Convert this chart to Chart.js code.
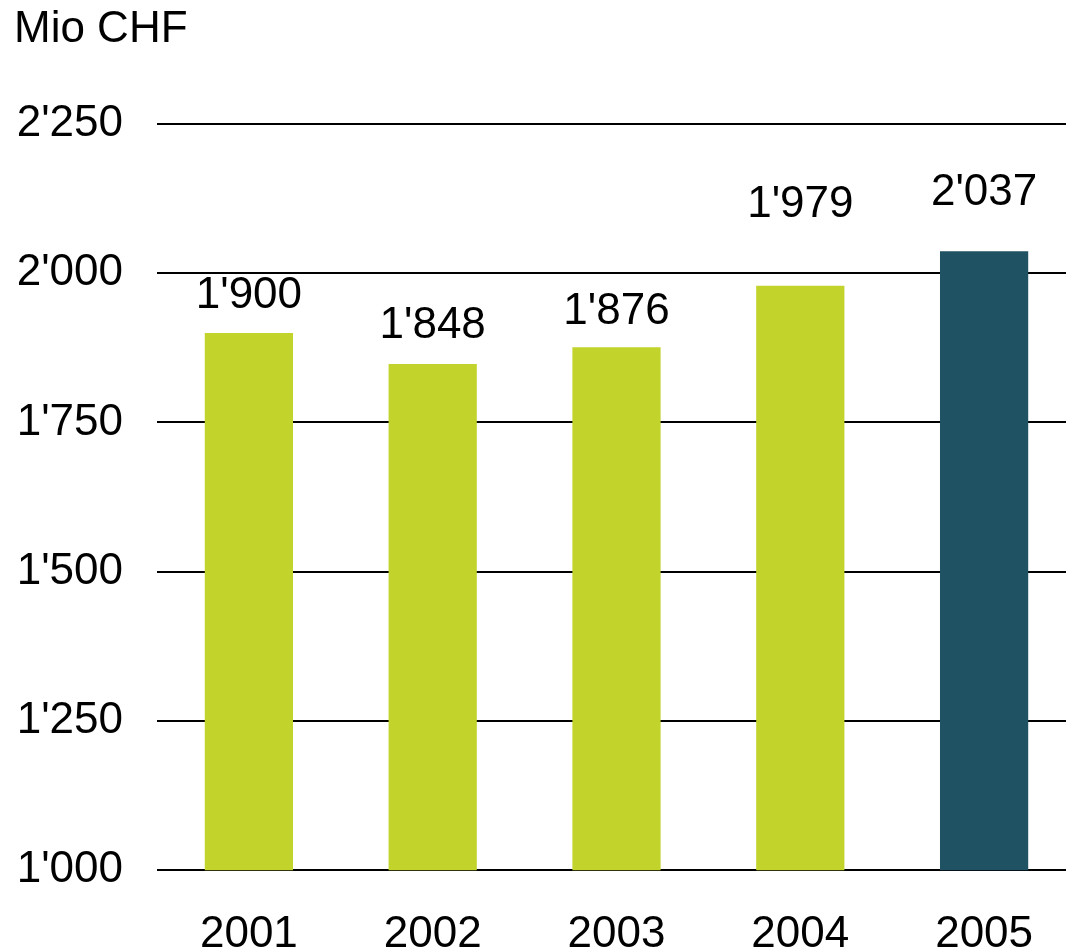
<!DOCTYPE html>
<html>
<head>
<meta charset="utf-8">
<script src="https://cdn.jsdelivr.net/npm/chart.js@4.4.1/dist/chart.umd.min.js"></script>
<style>
  html, body { margin: 0; padding: 0; background: #fff; overflow: hidden; }
  #wrap { position: relative; width: 1076px; height: 951px; }
</style>
</head>
<body>
<div id="wrap"><canvas id="chart"></canvas></div>
<script>
// Daten
const years = ['2001', '2002', '2003', '2004', '2005'];
const values = [1900, 1848, 1876, 1979, 2037];
const valueLabels = ["1'900", "1'848", "1'876", "1'979", "2'037"];
const tickValues = [1000, 1250, 1500, 1750, 2000, 2250];
const tickLabels = ["1'000", "1'250", "1'500", "1'750", "2'000", "2'250"];
const unitLabel = 'Mio CHF';

const green = '#c2d32c';
const teal = '#1f5263';
const barColors = years.map((y, i) => i === years.length - 1 ? teal : green);

const FONT = '"Liberation Sans", Arial, sans-serif';
const FONT_SIZE = 44;

// Abstand Beschriftung -> Balkenoberkante (wie im Original)
const labelGap = [25, 26, 23, 69, 46];

const valueLabelPlugin = {
    id: 'valueLabels',
    afterDatasetsDraw(chart) {
        const ctx = chart.ctx;
        const meta = chart.getDatasetMeta(0);
        ctx.save();
        ctx.font = FONT_SIZE + 'px ' + FONT;
        ctx.fillStyle = '#000';
        ctx.textAlign = 'center';
        ctx.textBaseline = 'alphabetic';
        meta.data.forEach((bar, i) => {
            ctx.fillText(valueLabels[i], bar.x, bar.y - labelGap[i]);
        });
        // Einheit oben links
        ctx.textAlign = 'left';
        ctx.fillText(unitLabel, 14, 42);
        ctx.restore();
    }
};

new Chart(document.getElementById('chart'), {
    type: 'bar',
    data: {
        labels: years,
        datasets: [{
            data: values,
            backgroundColor: barColors,
            borderWidth: 0,
            categoryPercentage: 1,
            barPercentage: 0.48
        }]
    },
    options: {
        responsive: true,
        maintainAspectRatio: false,
        animation: false,
        layout: { padding: { left: 15, top: 124, right: 0, bottom: -40 } },
        plugins: {
            legend: { display: false },
            tooltip: { enabled: false }
        },
        scales: {
            x: {
                grid: { display: false },
                border: { display: false },
                ticks: {
                    color: '#000',
                    font: { family: FONT, size: FONT_SIZE },
                    padding: 30
                }
            },
            y: {
                min: 1000,
                max: 2250,
                afterBuildTicks(scale) {
                    scale.ticks = tickValues.map(v => ({ value: v }));
                },
                afterFit(scale) { scale.width = 142; },
                grid: { color: '#000', lineWidth: 2, drawTicks: false },
                border: { display: false },
                ticks: {
                    color: '#000',
                    font: { family: FONT, size: FONT_SIZE },
                    padding: 34,
                    callback: (v) => tickLabels[tickValues.indexOf(v)]
                }
            }
        }
    },
    plugins: [valueLabelPlugin]
});
</script>
</body>
</html>
